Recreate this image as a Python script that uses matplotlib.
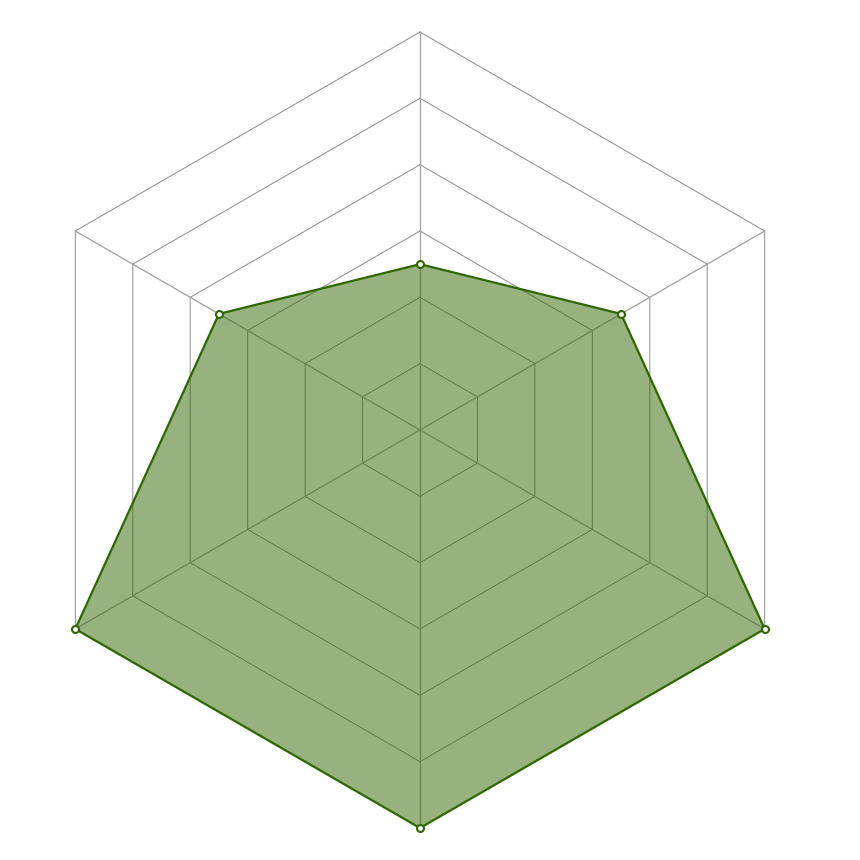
import numpy as np
import matplotlib
matplotlib.use("Agg")
import matplotlib.pyplot as plt

# values clockwise from the top spoke
values = [2.5, 3.5, 6, 6, 6, 3.5]
levels = [1, 2, 3, 4, 5, 6]
vmax = 6

n = len(values)
ang = np.deg2rad(90 - 360.0 / n * np.arange(n))

fig = plt.figure(figsize=(8.6, 8.6), dpi=100)
ax = fig.add_axes([0, 0, 1, 1])
ax.set_axis_off()

# grid rings
for lv in levels:
    xs = np.append(lv * np.cos(ang), lv * np.cos(ang[0]))
    ys = np.append(lv * np.sin(ang), lv * np.sin(ang[0]))
    ax.plot(xs, ys, color="#8c8c8c", lw=0.7, zorder=1)

# spokes
for a in ang:
    ax.plot([0, vmax * np.cos(a)], [0, vmax * np.sin(a)], color="#a0a0a0", lw=0.9, zorder=1)

# data polygon
v = np.array(values, dtype=float)
px = v * np.cos(ang)
py = v * np.sin(ang)
ax.fill(px, py, color="#336600", alpha=0.5, lw=0, zorder=2)
ax.plot(np.append(px, px[0]), np.append(py, py[0]), color="#2e6600", lw=1.6, zorder=3)
ax.plot(px, py, ls="none", marker="o", ms=5, mfc="white", mec="#2e6600", mew=1.5, zorder=4)

s = vmax / 398.0
ax.set_xlim(-420 * s, 440 * s)
ax.set_ylim(-430 * s, 430 * s)

fig.savefig("out.png", dpi=100)
